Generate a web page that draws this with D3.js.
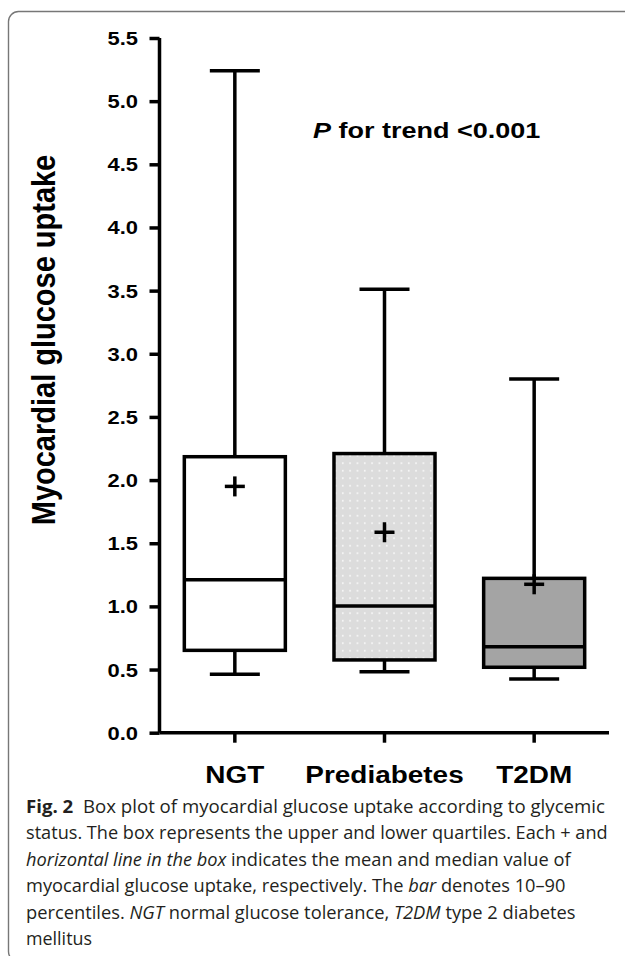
<!DOCTYPE html>
<html><head><meta charset="utf-8">
<script src="https://cdn.jsdelivr.net/npm/d3@7"></script>
<style>body{margin:0;background:#fff} svg{display:block}</style>
</head><body><svg id="c" width="625" height="956"></svg>
<script>
// ---- data ----
const categories = ["NGT", "Prediabetes", "T2DM"];
const p10    = [0.462, 0.483, 0.425];
const q1     = [0.652, 0.576, 0.518];
const median = [1.21, 1.004, 0.68];
const q3     = [2.185, 2.21, 1.222];
const p90    = [5.24, 3.51, 2.80];
const mean   = [1.95, 1.587, 1.175];
const boxFills = ["white", "dots", "#a4a4a4"];
const yTicks = [0, 0.5, 1.0, 1.5, 2.0, 2.5, 3.0, 3.5, 4.0, 4.5, 5.0, 5.5];
const yLabel = "Myocardial glucose uptake";
const annotationItalic = "P";
const annotationRest = " for trend <0.001";
const captionLines = [
  [["Fig. 2", "b"], ["  Box plot of myocardial glucose uptake according to glycemic", ""]],
  [["status. The box represents the upper and lower quartiles. Each + and", ""]],
  [["horizontal line in the box", "i"], [" indicates the mean and median value of", ""]],
  [["myocardial glucose uptake, respectively. The ", ""], ["bar", "i"], [" denotes 10\u201390", ""]],
  [["percentiles. ", ""], ["NGT", "i"], [" normal glucose tolerance, ", ""], ["T2DM", "i"], [" type 2 diabetes", ""]],
  [["mellitus", ""]]
];
const captionWidths = [579, 582, 545, 540, 550, 66];

// ---- drawing ----
const svg = d3.select("#c");
const defs = svg.append("defs");
const pat = defs.append("pattern").attr("id", "dots").attr("patternUnits", "userSpaceOnUse")
  .attr("width", 7.33).attr("height", 7.5).attr("x", 2).attr("y", 2);
pat.append("rect").attr("width", 7.33).attr("height", 7.5).attr("fill", "#dcdcdc");
pat.append("circle").attr("cx", 3.6).attr("cy", 3.7).attr("r", 0.85).attr("fill", "#ffffff");

// frame
svg.append("rect").attr("x", 8.5).attr("y", 11.5).attr("width", 700).attr("height", 950)
  .attr("rx", 10).attr("fill", "none").attr("stroke", "#777").attr("stroke-width", 1.4);

const y = d3.scaleLinear().domain([0, 5.5]).range([732.7, 38]);
const x = d3.scaleBand().domain(categories).range([160, 609]).padding(0);
const axX = 159.5;
const SX = 1.18; // horizontal stretch of chart text
const font = "'Liberation Sans', Arial, sans-serif";

// y axis
const yAxis = d3.axisLeft(y).tickValues(yTicks).tickSize(10).tickPadding(0)
  .tickFormat(d3.format(".1f"));
const gy = svg.append("g").attr("transform", `translate(${axX},0)`).call(yAxis);
gy.select(".domain").attr("d", `M0,${y(0)}V${y(5.5)}`).attr("stroke", "#000").attr("stroke-width", 3.5);
gy.selectAll(".tick line").attr("stroke", "#000").attr("stroke-width", 3.5);
gy.selectAll(".tick text")
  .attr("x", null).attr("dy", null)
  .attr("transform", `translate(-21.5,6.5) scale(1.22,1)`)
  .attr("text-anchor", "end")
  .attr("font-family", font).attr("font-weight", "bold").attr("font-size", 18).attr("fill", "#000");

// x axis
const xAxis = d3.axisBottom(x).tickSize(10).tickPadding(0);
const gx = svg.append("g").attr("transform", `translate(0,${y(0)})`).call(xAxis);
gx.select(".domain").attr("d", `M${axX},0H609`).attr("stroke", "#000").attr("stroke-width", 3.5);
gx.selectAll(".tick line").attr("stroke", "#000").attr("stroke-width", 3.5);
gx.selectAll(".tick text")
  .attr("y", null).attr("dy", null)
  .attr("transform", `translate(0,50.5) scale(1.14,1)`)
  .attr("text-anchor", "middle")
  .attr("font-family", font).attr("font-weight", "bold").attr("font-size", 24.5).attr("fill", "#000");

// boxes
const boxW = x.bandwidth() * 0.675, capW = 50, plus = 10;
categories.forEach((c, i) => {
  const cx = x(c) + x.bandwidth() / 2;
  const g = svg.append("g").attr("stroke", "#000").attr("stroke-width", 3.5).attr("fill", "none");
  // whiskers
  g.append("line").attr("x1", cx).attr("x2", cx).attr("y1", y(q3[i])).attr("y2", y(p90[i]));
  g.append("line").attr("x1", cx - capW / 2).attr("x2", cx + capW / 2).attr("y1", y(p90[i])).attr("y2", y(p90[i]));
  g.append("line").attr("x1", cx).attr("x2", cx).attr("y1", y(q1[i])).attr("y2", y(p10[i]));
  g.append("line").attr("x1", cx - capW / 2).attr("x2", cx + capW / 2).attr("y1", y(p10[i])).attr("y2", y(p10[i]));
  // box
  g.append("rect").attr("x", cx - boxW / 2).attr("width", boxW)
    .attr("y", y(q3[i])).attr("height", y(q1[i]) - y(q3[i]))
    .attr("fill", boxFills[i] === "dots" ? "url(#dots)" : boxFills[i]);
  g.append("line").attr("x1", cx - boxW / 2).attr("x2", cx + boxW / 2).attr("y1", y(median[i])).attr("y2", y(median[i]));
  // mean plus
  g.append("line").attr("x1", cx - plus).attr("x2", cx + plus).attr("y1", y(mean[i])).attr("y2", y(mean[i]));
  g.append("line").attr("x1", cx).attr("x2", cx).attr("y1", y(mean[i]) - plus).attr("y2", y(mean[i]) + plus);
});

// y label
svg.append("text")
  .attr("transform", `translate(55,340) scale(1.14,1) rotate(-90)`)
  .attr("text-anchor", "middle")
  .attr("font-family", font).attr("font-weight", "bold").attr("font-size", 29).attr("fill", "#000")
  .text(yLabel);

// annotation
const ann = svg.append("text")
  .attr("transform", `translate(313,138) scale(1.2,1)`)
  .attr("font-family", font).attr("font-weight", "bold").attr("font-size", 22.5).attr("fill", "#000");
ann.append("tspan").attr("font-style", "italic").text(annotationItalic);
ann.append("tspan").text(annotationRest);

// caption
const capFont = "'Open Sans', 'Noto Sans', sans-serif";
captionLines.forEach((segs, li) => {
  const t = svg.append("text")
    .attr("font-family", capFont).attr("font-size", 17.5).attr("fill", "#231f20");
  segs.forEach(([s, st]) => {
    const ts = t.append("tspan").text(s).attr("xml:space", "preserve").style("white-space", "pre");
    if (st === "b") ts.attr("font-weight", "bold");
    if (st === "i") ts.attr("font-style", "italic");
  });
  const w = t.node().getComputedTextLength();
  const k = captionWidths[li] / w;
  t.attr("transform", `translate(26,${813 + li * 26.4}) scale(${k},1)`);
});
</script></body></html>
